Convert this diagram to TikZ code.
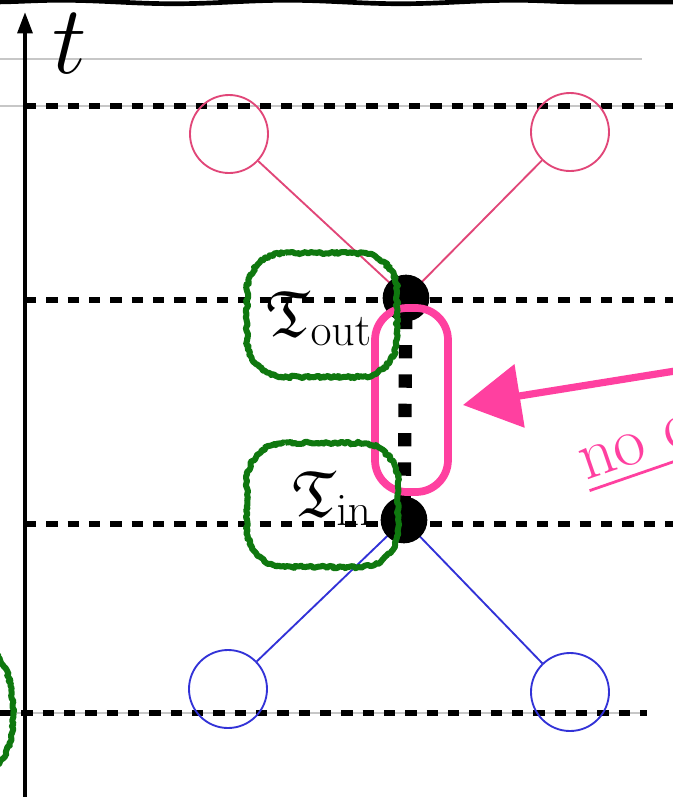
\RequirePackage{fix-cm}
\documentclass[tikz,border=0pt]{standalone}
\usepackage{amssymb}
\DeclareFontFamily{U}{euf}{}
\DeclareFontShape{U}{euf}{m}{n}{<-6>eufm5<6-8>eufm7<8->eufm10}{}
\usetikzlibrary{arrows.meta,decorations.pathmorphing,backgrounds}
\definecolor{hotpink}{RGB}{255,64,160}
\definecolor{linepink}{RGB}{225,70,120}
\definecolor{lineblue}{RGB}{50,50,215}
\definecolor{mygreen}{RGB}{15,120,15}
\tikzset{
  dashline/.style={line width=3.8pt, dash pattern=on 8.5pt off 7.5pt},
  gridgray/.style={black!22, line width=0.8pt},
  thinpink/.style={linepink, line width=1.4pt},
  thinblue/.style={lineblue, line width=1.4pt},
  pcirc/.style={circle, draw=linepink, line width=1.4pt, minimum size=58.5pt, inner sep=0pt},
  bcirc/.style={circle, draw=lineblue, line width=1.4pt, minimum size=58.5pt, inner sep=0pt},
  bigdot/.style={circle, fill=black, minimum size=35pt, inner sep=0pt},
  greenwave/.style={draw=mygreen, line width=4.5pt, line join=round, decorate,
    decoration={random steps, segment length=1.6pt, amplitude=1pt}},
  lbl/.style={inner sep=0pt, font=\fontsize{49}{55}\selectfont}
}
\begin{document}
\begin{tikzpicture}[x=0.75pt, y=-0.75pt]
\useasboundingbox (0,0) rectangle (673,797);
\clip (0,0) rectangle (673,797);

% named points
\coordinate (axb) at (25,800);
\coordinate (axt) at (25,12);
\coordinate (g0a) at (0,59);   \coordinate (g0b) at (642,59);
\coordinate (g1a) at (0,106);  \coordinate (g1b) at (673,106);
\coordinate (g4a) at (0,713);  \coordinate (g4b) at (647,713);
\coordinate (d1a) at (25,106); \coordinate (d1b) at (680,106);
\coordinate (d2a) at (25,300); \coordinate (d2b) at (680,300);
\coordinate (d3a) at (25,524); \coordinate (d3b) at (680,524);
\coordinate (d4a) at (0,713);  \coordinate (d4b) at (647,713);
\coordinate (brdl) at (-10,2); \coordinate (brdr) at (690,2);
\coordinate (arrs) at (700,367);
\coordinate (arrt) at (463,405);

% nodes
\node[pcirc] (pl) at (229,134) {};
\node[pcirc] (pr) at (570,132) {};
\node[bcirc] (bl) at (228,689) {};
\node[bcirc] (br) at (570,692) {};
\node[bigdot] (dtop) at (406,298) {};
\node[bigdot] (dbot) at (404,520) {};

\begin{pgfonlayer}{background}
  \draw[gridgray] (g0a) -- (g0b);
  \draw[gridgray] (g1a) -- (g1b);
  \draw[gridgray] (g4a) -- (g4b);
  \draw[dashline] (d1a) -- (d1b);
  \draw[dashline] (d2a) -- (d2b);
  \draw[dashline] (d3a) -- (d3b);
  \draw[dashline] (d4a) -- (d4b);
  \draw[thinpink] (pl) -- (dtop.center);
  \draw[thinpink] (pr) -- (dtop.center);
  \draw[thinblue] (bl) -- (dbot.center);
  \draw[thinblue] (br) -- (dbot.center);
\end{pgfonlayer}

% time axis
\draw[line width=3pt, -{Triangle[length=16pt,width=11pt]}] (axb) -- (axt);
\node[inner sep=0pt, anchor=base west, font=\fontsize{73}{80}\selectfont] (tlab) at (52,73) {$t$};

% top wavy border
\draw[line width=3.5pt, decorate, decoration={snake, segment length=170pt, amplitude=1.3pt}] (brdl) -- (brdr);

% dotted segment between vertices
\draw[line width=10pt, dash pattern=on 10pt off 12pt, dash phase=8.7pt] (dtop.center) -- (dbot.center);

% pink group box and arrow
\node[draw=hotpink, line width=5.8pt, rounded corners=24pt, minimum width=54.75pt, minimum height=138pt, inner sep=0pt] (grp) at (411.5,400) {};
\draw[hotpink, line width=5.4pt, -{Triangle[length=43pt,width=47pt]}] (arrs) -- (arrt);
\node[text=hotpink, rotate=19, anchor=base west, inner sep=0pt, font=\fontsize{52}{56}\selectfont] (noc) at (586,481) {\underline{no c}};

% labels
\node[lbl, anchor=base east] (tout) at (372,336) {$\mathfrak{T}_{\mathrm{out}}$};
\node[lbl, anchor=base east] (tin) at (372,516) {$\mathfrak{T}_{\mathrm{in}}$};

% green hand-drawn boxes
\draw[greenwave] (285,253) -- (359,253) .. controls (380,253) and (397,270) .. (397,291) -- (397,339) .. controls (397,360) and (380,377) .. (359,377) -- (285,377) .. controls (264,377) and (247,360) .. (247,339) -- (247,291) .. controls (247,270) and (264,253) .. (285,253) -- cycle;
\draw[greenwave] (285,443) -- (360,443) .. controls (381,443) and (398,460) .. (398,481) -- (398,529) .. controls (398,550) and (381,567) .. (360,567) -- (285,567) .. controls (264,567) and (247,550) .. (247,529) -- (247,481) .. controls (247,460) and (264,443) .. (285,443) -- cycle;
\draw[greenwave] (-10,650) .. controls (8,662) and (13,690) .. (13,713) .. controls (13,736) and (8,760) .. (-10,772);
\end{tikzpicture}
\end{document}
